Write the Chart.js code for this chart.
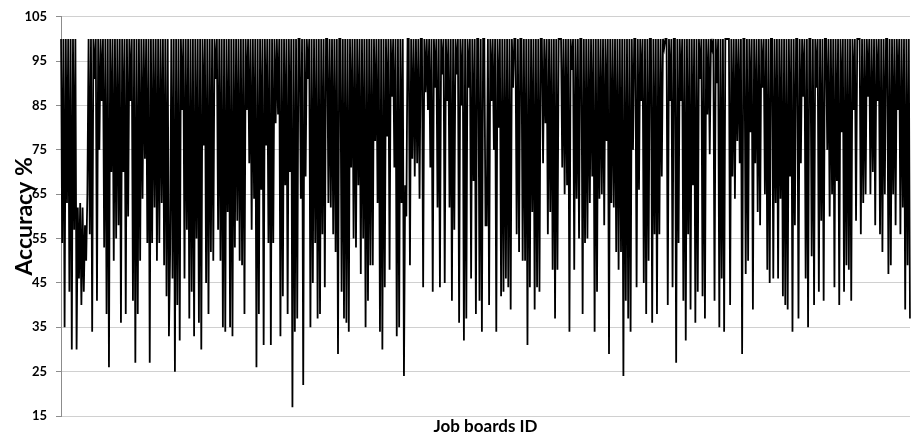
<!DOCTYPE html>
<html>
<head>
<meta charset="utf-8">
<script src="https://cdn.jsdelivr.net/npm/chart.js@4/dist/chart.umd.min.js"></script>
<style>
  html, body { margin: 0; padding: 0; background: #ffffff; }
  #wrap { width: 912px; height: 439px; position: relative; }
</style>
</head>
<body>
<div id="wrap"><canvas id="c" width="912" height="439"></canvas></div>
<script>
// Accuracy % per job board (left to right, in eight stretches)
const seg1 = [100,54,100,35,100,63,100,43,100,30,100,57,100,30,62,46,63,40,62,43,58,50,65,100,56,100,34,100,91,100,41,100,75,100,86,100,53,100,38,100,26,100,70,100,50,100,55,100,58,100,36,100,70,100,38,100,60,100,86,100,41,100,27,100,38,100,50,100,64,100,73,100,54,100,27,100,54,100,62,100,50,100,54,100,63,100,49,100,42];
const seg2 = [100,33,52,100,46,100,25,100,40,100,32,100,84,100,46,100,57,100,37,100,43,100,33,100,55,100,36,100,30,100,76,100,45,100,38,100,52,100,50,100,91,100,57,100,50,100,35,100,34,100,61,100,35,100,33,100,53,100,59,100,50,100,49,100,38,100,84,100,72,100,57,100,64,100,26,100,38,100,66,100,31,100,76,100,54,100,31,100,54,100,81];
const seg3 = [100,83,100,33,100,42,100,67,100,38,100,70,100,17,100,34,100,37,100,100,64,100,22,100,69,100,91,100,35,100,45,100,54,100,37,100,38,100,56,100,44,100,100,63,100,62,100,56,100,52,100,29,100,100,43,100,37,100,36,100,34,100,71,100,55,100,53,100,67,100,47,100,55,100,35,100,41,100,49,100,49,100,77,100,63,100,34];
const seg4 = [100,30,100,44,100,78,100,48,100,87,100,71,100,33,100,35,100,63,100,24,67,60,100,100,49,100,73,100,69,100,72,100,64,100,100,44,100,88,100,84,100,71,100,43,100,89,100,62,100,44,100,92,100,45,100,86,100,62,100,41,100,57,100,92,100,36,100,85,100,32,100,37,100,89,100,46,100,68,100,38,100,100,41,100,34,100,100,58];
const seg5 = [58,100,40,100,86,100,75,100,34,100,80,100,42,100,43,100,46,100,44,100,39,100,89,100,100,56,100,52,100,100,50,100,50,100,31,100,44,100,61,100,39,100,44,100,43,100,100,72,100,81,100,56,100,61,100,48,100,37,100,48,100,100,100,71,100,65,100,67,100,34,100,93,100,48,100,64,100,55,100,100,38,100,54];
const seg6 = [100,55,100,63,100,69,100,34,100,43,100,64,100,65,100,58,100,77,100,29,100,63,100,62,100,52,100,48,100,52,100,24,100,41,100,37,100,34,100,75,100,100,44,100,66,100,86,100,45,100,38,100,50,100,100,36,100,56,100,38,100,56,100,69,100,98,100,100,40,100,86,100,44,100,100,27,100,54,100,86,100,41,100,32,100,56,100,39,100,67,100,36,100,43];
const seg7 = [100,91,100,42,100,37,100,83,100,74,100,98,100,41,100,90,100,35,100,46,100,34,100,100,100,100,40,100,69,100,64,100,77,100,72,100,29,100,100,47,100,50,100,79,100,39,100,72,100,61,100,58,100,89,100,65,100,48,100,45,100,100,46,100,63,100,46,100,64,100,42,100,40,100,39,100,69,100,34,100,58,100,100,37,100,72];
const seg8 = [100,87,100,46,100,35,100,100,51,100,40,100,89,100,43,100,59,100,41,100,100,75,100,60,100,65,100,44,100,68,100,40,100,79,100,43,100,49,100,48,100,41,100,84,100,59,100,100,100,56,100,63,100,65,100,87,100,65,100,70,100,58,100,86,100,56,100,52,100,65,100,100,47,100,49,100,65,100,58,100,84,100,56,100,62,100,39,100,49,100,37];

const accuracy = [].concat(seg1, seg2, seg3, seg4, seg5, seg6, seg7, seg8);
const boardIds = accuracy.map((_, i) => String(i + 1));

const yMin = 15, yMax = 105, yStep = 10;
const yTitle = 'Accuracy %';
const xTitle = 'Job boards ID';

new Chart(document.getElementById('c'), {
  type: 'line',
  data: {
    labels: boardIds,
    datasets: [{
      data: accuracy,
      borderColor: '#000000',
      borderWidth: 1.8,
      pointRadius: 0,
      tension: 0,
      fill: false
    }]
  },
  options: {
    responsive: false,
    animation: false,
    events: [],
    layout: { padding: { top: 15, right: 2, left: 0, bottom: 0 } },
    plugins: { legend: { display: false }, tooltip: { enabled: false } },
    scales: {
      x: {
        type: 'category',
        offset: false,
        grid: { display: false },
        border: { display: false },
        ticks: { display: false },
        title: {
          display: true,
          text: xTitle,
          color: '#000000',
          font: { family: 'Lato', weight: 'bold', size: 17 },
          padding: { top: 0, bottom: 2 }
        },
        afterFit: (s) => { s.height = 23; }
      },
      y: {
        min: yMin,
        max: yMax,
        ticks: {
          stepSize: yStep,
          color: '#000000',
          padding: 9,
          font: { family: 'Lato', weight: 'bold', size: 13 }
        },
        grid: {
          color: '#d0d0d0',
          borderDash: [2, 2],
          tickLength: 5,
          tickColor: '#8c8c8c',
          tickBorderDash: [],
          lineWidth: 1
        },
        border: { display: true, color: '#8c8c8c', width: 1 },
        title: {
          display: true,
          text: yTitle,
          color: '#000000',
          font: { family: 'Lato', weight: 'bold', size: 23 },
          padding: { top: 11, bottom: 0 }
        },
        afterFit: (s) => { s.width = 61; }
      }
    }
  }
});
</script>
</body>
</html>
